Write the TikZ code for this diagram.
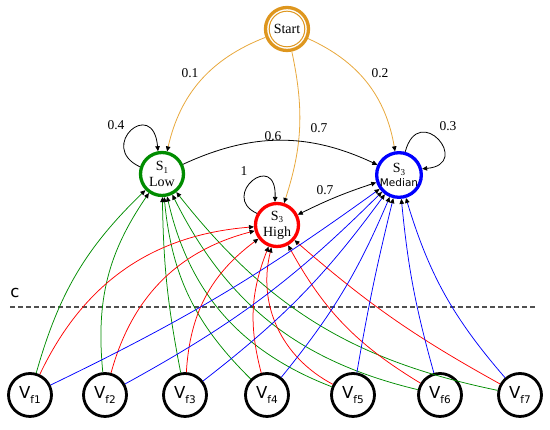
\documentclass[tikz,border=0pt]{standalone}
\usepackage{fontspec}
\setmainfont{Liberation Serif}
\newfontfamily\vfont{DejaVu Sans}
\usetikzlibrary{arrows.meta}
\definecolor{startc}{RGB}{222,150,30}
\definecolor{starte}{RGB}{232,168,60}
\definecolor{gr}{RGB}{0,140,0}
\definecolor{dashc}{RGB}{80,80,80}
\newcommand\mysub[1]{\raisebox{-0.2em}{\fontsize{9}{9}\selectfont #1}}
\newcommand\myvsub[1]{\raisebox{-0.3em}{\fontsize{10.5}{10.5}\selectfont #1}}
\begin{document}
\begin{tikzpicture}[x=1pt,y=1pt,
  snode/.style={circle, line width=3.3pt, minimum size=43pt, inner sep=0pt, align=center,
    font=\fontsize{14}{14}\selectfont},
  vnode/.style={circle, draw=black, line width=2.8pt, minimum size=43pt, inner sep=0pt,
    font=\vfont\fontsize{16.5}{16.5}\selectfont},
  arr/.style={-{Triangle[length=5pt,width=4.5pt,color=black]}},
  ge/.style={arr, draw=gr, line width=0.75pt},
  re/.style={arr, draw=red, line width=0.75pt},
  be/.style={arr, draw=blue, line width=0.75pt},
  oe/.style={arr, draw=starte, line width=0.8pt},
  ke/.style={arr, draw=black, line width=0.8pt},
  lab/.style={font=\fontsize{13.5}{13.5}\selectfont, inner sep=0pt}
]
\useasboundingbox (0,0) rectangle (550,430);

% states
\node[circle, draw=startc, line width=3.3pt, minimum size=43pt, inner sep=0pt,
  font=\fontsize{14}{14}\selectfont] (Start) at (287,401) {Start};
\draw[startc, line width=1pt] (Start.center) circle[radius=17.8pt];
\node[snode, draw=gr] (S1) at (162,256) {S\mysub{1}\\[2pt]Low};
\node[snode, draw=red] (High) at (277,205) {S\mysub{3}\\[2pt]High};
\node[snode, draw=blue] (Med) at (399,255) {S\mysub{3}\\[0pt]{\vfont\fontsize{10.5}{10.5}\selectfont Median}};

% observation nodes
\node[vnode] (V1) at (30,35) {V\myvsub{f1}};
\node[vnode] (V2) at (105,35) {V\myvsub{f2}};
\node[vnode] (V3) at (185,35) {V\myvsub{f3}};
\node[vnode] (V4) at (267,35) {V\myvsub{f4}};
\node[vnode] (V5) at (353,35) {V\myvsub{f5}};
\node[vnode] (V6) at (440,35) {V\myvsub{f6}};
\node[vnode] (V7) at (520,35) {V\myvsub{f7}};

% dashed line
\coordinate (dl) at (10,123);
\coordinate (dr) at (536,123);
\draw[dashc, line width=1.1pt, dash pattern=on 5pt off 3pt] (dl) -- (dr);
\node[font=\vfont\fontsize{16.5}{16.5}\selectfont, inner sep=0pt] (clab) at (15,137) {c};

% start edges
\draw[oe] (Start) to[bend right=28] (S1);
\draw[oe] (Start) to[bend left=15] (High);
\draw[oe] (Start) to[bend left=28] (Med);

% self loops
\draw[ke] (S1.162) .. controls +(155:48) and +(95:55) .. (S1.100);
\draw[ke] (High.150) .. controls +(155:42) and +(88:53) .. (High.95);
\draw[ke] (Med.75) .. controls +(75:53) and +(5:51) .. (Med.15);

% transitions
\draw[ke] (S1) to[bend left=25] (Med);
\draw[ke, {Triangle[length=5pt,width=4.5pt,color=black]}-{Triangle[length=5pt,width=4.5pt,color=black]}] (Med) to[bend right=4] (High);

% labels
\node[lab] (l01) at (190,357) {0.1};
\node[lab] (l02) at (380,357) {0.2};
\node[lab] (l07a) at (319,302) {0.7};
\node[lab] (l04) at (116,305) {0.4};
\node[lab] (l03) at (448,304) {0.3};
\node[lab] (l06) at (273,294) {0.6};
\node[lab] (l1) at (244,259) {1};
\node[lab] (l07b) at (325,240) {0.7};

% green edges to S1
\draw[ge] (V1) to[bend left=15] (S1);
\draw[ge] (V2) to[bend left=20] (S1);
\draw[ge] (V3) to[bend left=5] (S1);
\draw[ge] (V4) to[bend left=20] (S1);
\draw[ge] (V5) to[bend left=28] (S1);
\draw[ge] (V6) to[bend left=25] (S1);
\draw[ge] (V7) to[bend left=20] (S1);

% red edges to High
\draw[re] (V1) to[bend left=30] (High);
\draw[re] (V2) to[bend left=30] (High);
\draw[re] (V3) to[bend left=25] (High);
\draw[re] (V4) to[bend left=18] (High);
\draw[re] (V5) to[bend left=38] (High);
\draw[re] (V6) to[bend left=15] (High);
\draw[re] (V7) to[bend left=6] (High);

% blue edges to Median
\draw[be] (V1) to[bend right=5] (Med);
\draw[be] (V2) to[bend right=8] (Med);
\draw[be] (V3) to[bend right=8] (Med);
\draw[be] (V4) to[bend right=8] (Med);
\draw[be] (V5) to[bend left=2] (Med);
\draw[be] (V6) to[bend left=5] (Med);
\draw[be] (V7) to[bend left=12] (Med);
\end{tikzpicture}
\end{document}
